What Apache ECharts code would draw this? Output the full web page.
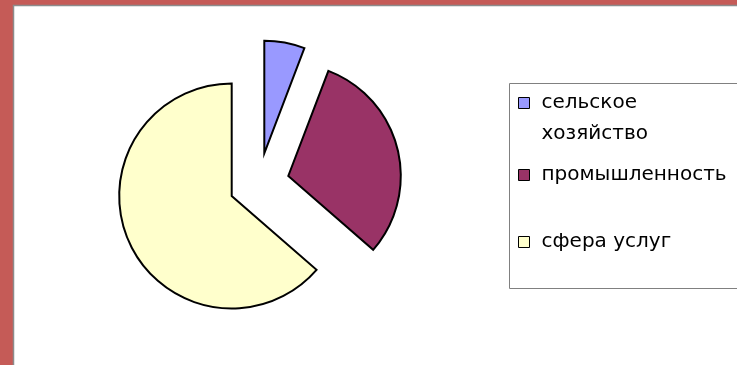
<!DOCTYPE html>
<html>
<head>
<meta charset="utf-8">
<script src="https://cdn.jsdelivr.net/npm/echarts@6/dist/echarts.min.js"></script>
<style>
  html, body { margin: 0; padding: 0; background: #c55b57; }
  #chart { width: 737px; height: 365px; }
</style>
</head>
<body>
<div id="chart"></div>
<script>
// Employment structure by sector, share in %
const categories = ['сельское\nхозяйство', 'промышленность', 'сфера услуг'];
const values = [5.8, 30.6, 63.6];
const colors = ['#9999ff', '#993366', '#ffffcc'];

// Each sector is drawn exploded, with its own pie centre
const sliceCenters = [[264.3, 153.3], [288.3, 176], [231.7, 196]];
const pieRadius = 112.5;
// Top edge of each legend entry
const legendTops = [56.5, 159.5, 226.5];

const chart = echarts.init(document.getElementById('chart'), null, { renderer: 'canvas' });

const series = categories.map((_, k) => ({
  type: 'pie',
  center: sliceCenters[k],
  radius: pieRadius,
  startAngle: 90,
  clockwise: true,
  silent: true,
  animation: false,
  label: { show: false },
  labelLine: { show: false },
  emphasis: { disabled: true },
  data: categories.map((name, i) => ({
    name: name,
    value: values[i],
    itemStyle: i === k
      ? { color: colors[i], borderColor: '#000', borderWidth: 2, borderJoin: 'miter' }
      : { color: 'rgba(0,0,0,0)', borderWidth: 0 }
  }))
}));

// The icon of a two-line entry sits beside its first line:
// an empty leading line keeps that first line at the block's middle.
const legends = categories.map((name, i) => ({
  data: [{ name: name, itemStyle: { color: colors[i], borderColor: '#000', borderWidth: 1 } }],
  orient: 'vertical',
  left: 518,
  top: legendTops[i],
  padding: 0,
  itemWidth: 11,
  itemHeight: 11,
  icon: 'rect',
  selectedMode: false,
  formatter: n => (n.indexOf('\n') >= 0 ? '\n' + n : n),
  textStyle: {
    fontFamily: 'DejaVu Sans',
    fontSize: 20,
    color: '#000',
    lineHeight: 31,
    padding: [0, 0, 0, 7]
  }
}));

chart.setOption({
  animation: false,
  graphic: [
    {
      type: 'rect', z: -10, silent: true,
      shape: { x: 13.5, y: 5.5, width: 740, height: 370 },
      style: { fill: '#ffffff', stroke: '#8c8c8c', lineWidth: 1.5 }
    },
    {
      type: 'rect', z: -5, silent: true,
      shape: { x: 509.5, y: 83.5, width: 240, height: 205 },
      style: { fill: 'none', stroke: '#808080', lineWidth: 1 }
    }
  ],
  legend: legends,
  series: series
});
</script>
</body>
</html>
